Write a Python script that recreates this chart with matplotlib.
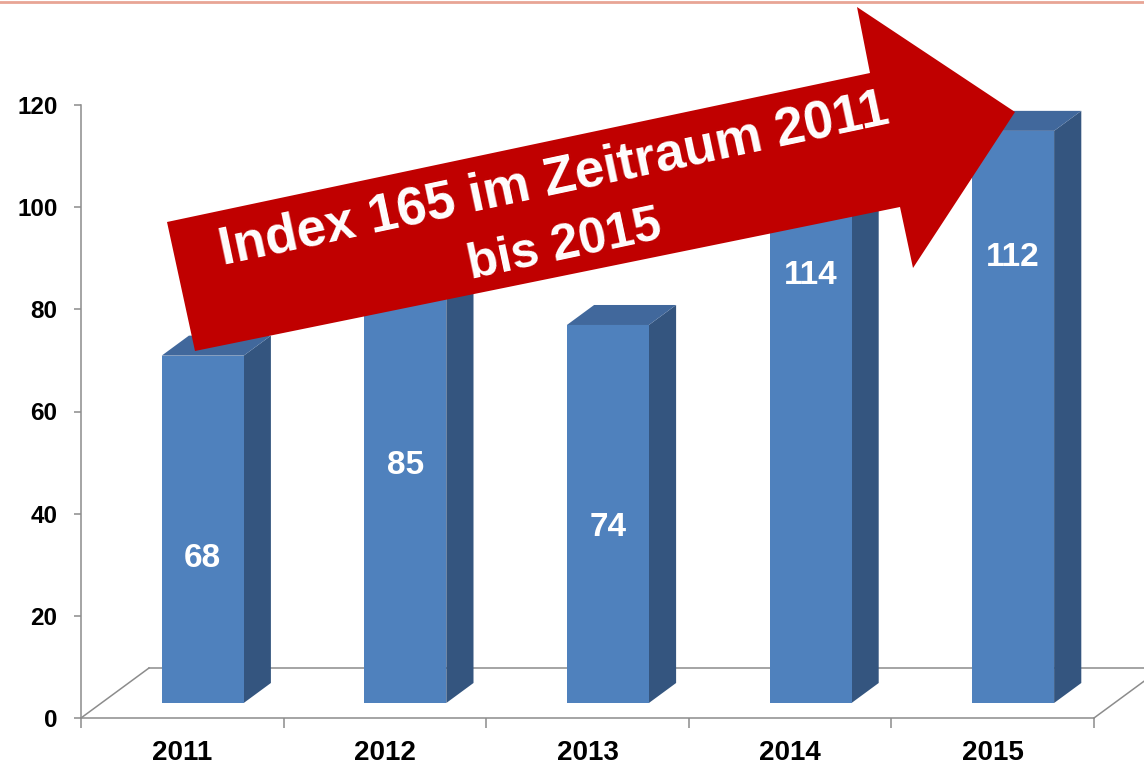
import matplotlib
matplotlib.use("Agg")
import matplotlib.pyplot as plt
from matplotlib.patches import Polygon
from matplotlib.lines import Line2D

# data
years = ["2011", "2012", "2013", "2014", "2015"]
values = [68, 85, 74, 114, 112]
value_labels = ["68", "85", "74", "114", "112"]
y_ticks = [0, 20, 40, 60, 80, 100, 120]
arrow_line1 = "Index 165 im Zeitraum 2011"
arrow_line2 = "bis 2015"

# where the white numbers sit on the bars (axis units)
label_heights = [31.3, 49.5, 37.2, 86.7, 90.2]

W, H = 1144, 768
plt.rcParams['font.family'] = ['Liberation Sans', 'DejaVu Sans']
plt.rcParams['font.weight'] = 'bold'

fig = plt.figure(figsize=(W / 100, H / 100), dpi=100)
ax = fig.add_axes([81 / W, 1 - 718 / H, (1094 - 81) / W, (718 - 105) / H])
ax.set_xlim(-0.5, len(years) - 0.5)
ax.set_ylim(0, 120)

# pseudo-3D floor depth, in data units
px_per_cat = (1094 - 81) / len(years)
px_per_val = (718 - 105) / 120
ddx = 68 / px_per_cat
ddy = 50 / px_per_val
bw = 82 / px_per_cat

grey = '#8c8c8c'
front_c, side_c, top_c = '#4f81bd', '#34557f', '#41689c'

# floor outline
x_l, x_r = -0.5, len(years) - 0.5
for xs, ys in [([x_l, x_l + ddx], [0, ddy]),
               ([x_l + ddx, x_r + ddx], [ddy, ddy]),
               ([x_r, x_r + ddx], [0, ddy])]:
    ax.plot(xs, ys, color=grey, lw=1.1, clip_on=False, zorder=1)

# bars
for i, v in enumerate(values):
    x0 = i - bw / 2 + 0.3 * ddx
    y0 = 0.3 * ddy
    sx, sy = 0.4 * ddx, 0.4 * ddy
    front = [(x0, y0), (x0 + bw, y0), (x0 + bw, y0 + v), (x0, y0 + v)]
    side = [(x0 + bw, y0), (x0 + bw + sx, y0 + sy),
            (x0 + bw + sx, y0 + v + sy), (x0 + bw, y0 + v)]
    top = [(x0, y0 + v), (x0 + bw, y0 + v),
           (x0 + bw + sx, y0 + v + sy), (x0 + sx, y0 + v + sy)]
    for pts, c in [(side, side_c), (top, top_c), (front, front_c)]:
        ax.add_patch(Polygon(pts, closed=True, facecolor=c, edgecolor='none',
                             clip_on=False, zorder=3))
    ax.text(x0 + bw / 2, label_heights[i], value_labels[i], color='white',
            fontsize=24, fontweight='bold', ha='center', va='center', zorder=4)

# axes styling
for s in ['top', 'right']:
    ax.spines[s].set_visible(False)
for s in ['left', 'bottom']:
    ax.spines[s].set_color(grey)
    ax.spines[s].set_linewidth(1.1)

ax.set_yticks(y_ticks)
ax.set_yticklabels([str(t) for t in y_ticks])
ax.tick_params(axis='y', length=5, width=1.1, color=grey, pad=12,
               labelsize=17.5)
ax.set_xticks(range(len(years)))
ax.set_xticklabels(years)
ax.set_xticks([k - 0.5 for k in range(len(years) + 1)], minor=True)
ax.tick_params(axis='x', which='major', length=0, pad=16, labelsize=20)
ax.tick_params(axis='x', which='minor', length=7, width=1.1, color=grey)
ax.patch.set_visible(False)

# big red arrow (figure pixel coordinates)
arrow_px = [(167, 222), (870, 73), (857, 7), (1015, 112),
            (913, 268), (900, 207), (195, 351)]
arrow_pts = [(x / W, 1 - y / H) for x, y in arrow_px]
fig.add_artist(Polygon(arrow_pts, closed=True, facecolor='#c00000',
                       edgecolor='none', transform=fig.transFigure, zorder=10))
fig.text(557 / W, 1 - 194 / H, arrow_line1, color='white', fontsize=38,
         fontweight='bold', ha='center', va='baseline',
         rotation=12, rotation_mode='anchor', zorder=11)
fig.text(567 / W, 1 - 259 / H, arrow_line2, color='white', fontsize=36,
         fontweight='bold', ha='center', va='baseline',
         rotation=12, rotation_mode='anchor', zorder=11)

# thin line along the top edge
fig.add_artist(Line2D([0, 1], [1 - 1.5 / H, 1 - 1.5 / H], color='#e8a595',
                      lw=2, transform=fig.transFigure))

fig.savefig('out.png', dpi=100)
